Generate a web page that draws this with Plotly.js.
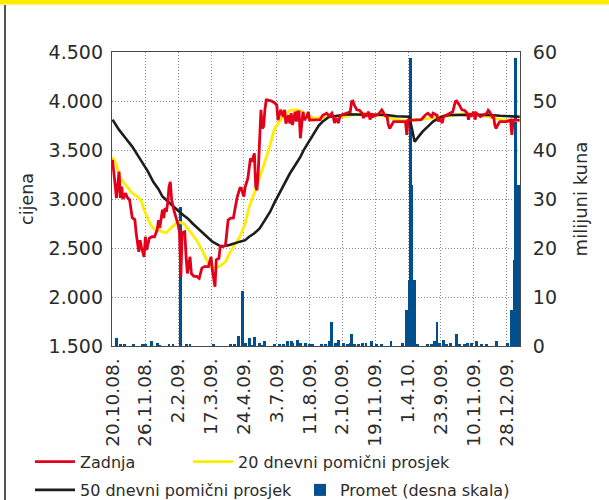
<!DOCTYPE html>
<html>
<head>
<meta charset="utf-8">
<script src="https://cdn.plot.ly/plotly-3.0.1.min.js"></script>
<style>
  html, body { margin: 0; padding: 0; background: #fff; }
  #chart { width: 609px; height: 500px; }
</style>
</head>
<body>
<div id="chart"></div>
<script>
// ---- Data (trading-day index on x) ----
const tickDays = [0, 25, 50, 75, 100, 125, 150, 175, 200, 225, 250, 275, 300];
const tickLabels = ['20.10.08.', '26.11.08.', '2.2.09.', '17.3.09.', '24.4.09.', '3.7.09.', '11.8.09.', '2.10.09.', '19.11.09.', '1.4.10.', '23.9.09.', '10.11.09.', '28.12.09.'];

const priceTicks = [1500, 2000, 2500, 3000, 3500, 4000, 4500];
const priceTickLabels = ['1.500', '2.000', '2.500', '3.000', '3.500', '4.000', '4.500'];
const volumeTicks = [0, 10, 20, 30, 40, 50, 60];
const volumeTickLabels = ['0', '10', '20', '30', '40', '50', '60'];

// Zadnja (last price)
const zadnjaDays = [0,1,3,5,6,7,8,10,11,13,15,17,18,20,21,22,24,25,26,28,30,32,34,35,36,38,39,40,41,42,43,44,45,47,49,50,51,52,53,55,56,57,59,60,61,62,64,66,68,70,73,74,75,76,78,79,81,82,84,86,88,90,92,94,95,97,98,100,101,103,104,105,106,107,108,109,110,111,112,113,114,115,116,117,118,121,123,125,126,128,130,131,132,134,135,136,137,139,140,141,142,143,145,146,148,149,150,153,155,158,160,163,165,167,168,169,170,172,173,174,178,181,182,183,184,186,188,190,191,192,193,195,196,197,198,201,203,205,206,207,209,210,211,213,214,216,219,221,223,224,225,228,230,233,235,238,240,243,244,247,248,249,251,252,254,257,259,261,262,264,266,268,270,271,272,273,275,276,277,280,282,285,286,287,289,290,291,292,294,295,297,300,303,304,305,308,310];
const zadnjaValues = [3400,3265,3010,3280,3010,3125,3000,3060,3020,2990,2810,2790,2650,2460,2580,2510,2410,2615,2480,2600,2615,2615,2685,2785,2705,2890,2805,2910,2870,2960,3125,3175,2990,2870,2770,2735,2655,2205,2655,2665,2410,2240,2410,2240,2225,2210,2210,2190,2295,2310,2310,2380,2410,2275,2105,2380,2395,2515,2515,2530,2785,2805,2805,2955,3025,3110,3110,3025,3125,3210,3295,3415,3380,3415,3465,3125,3090,3295,3705,3910,3720,3740,3910,4010,4010,4000,3985,3960,3805,3910,3840,3910,3770,3855,3770,3875,3755,3890,3790,3890,3890,3620,3890,3805,3840,3890,3805,3805,3805,3810,3855,3875,3845,3875,3840,3775,3825,3775,3840,3855,3875,3890,3995,4000,3960,3910,3905,3875,3825,3875,3840,3890,3810,3875,3840,3855,3875,3910,3890,3855,3840,3755,3720,3775,3790,3790,3790,3790,3790,3655,3805,3805,3805,3805,3810,3855,3875,3840,3875,3855,3790,3825,3775,3840,3855,3875,3890,3995,4000,3960,3910,3905,3875,3810,3875,3840,3890,3810,3875,3840,3855,3875,3905,3890,3840,3855,3755,3720,3775,3790,3790,3790,3805,3655,3805,3805,3805];

// 20 dnevni pomični prosjek
const ma20Days = [0,3,5,8,12,15,19,22,24,27,29,32,35,38,41,43,46,49,51,54,56,60,64,68,70,73,75,79,83,86,89,93,97,101,104,108,112,116,120,123,127,131,135,139,143,146,150,154,158,165,177,184,192,200,207,215,223,230,238,249,261,268,276,283,291,299,310];
const ma20Values = [3430,3350,3245,3175,3110,3060,3025,2975,2890,2805,2735,2690,2685,2665,2655,2685,2725,2760,2760,2750,2720,2650,2580,2480,2420,2345,2310,2295,2325,2360,2445,2530,2615,2750,2920,3060,3210,3380,3550,3705,3790,3855,3905,3910,3900,3875,3840,3825,3830,3840,3840,3860,3870,3860,3845,3815,3800,3805,3820,3840,3860,3870,3860,3850,3820,3805,3800];

// 50 dnevni pomični prosjek
const ma50Days = [0,5,10,15,19,23,27,31,35,38,42,46,50,54,57,61,65,69,73,76,82,85,89,93,97,101,104,108,112,116,120,123,127,131,135,139,143,146,150,153,157,160,165,169,173,178,192,207,216,226,230,233,236,240,244,248,252,257,270,285,295,310];
const ma50Values = [3810,3705,3620,3535,3450,3365,3280,3175,3100,3025,2975,2920,2880,2835,2805,2750,2700,2650,2600,2565,2520,2520,2530,2550,2565,2580,2615,2650,2700,2785,2870,2955,3060,3160,3260,3345,3430,3510,3600,3670,3750,3790,3840,3845,3855,3865,3860,3860,3845,3840,3585,3636,3687,3738,3790,3823,3846,3857,3860,3860,3850,3840];

// Promet (milijuni kuna, desna skala)
const prometDays = [3,6,9,16,23,25,30,34,36,43,46,52,56,59,77,90,93,96,99,101,104,106,108,112,114,116,123,127,130,133,136,137,141,143,147,150,152,159,162,165,167,170,172,176,179,181,182,184,187,190,193,197,201,205,212,221,224,226,227,228,230,232,240,243,245,247,249,252,254,257,262,264,268,270,273,277,281,285,292,301,304,306,307,309];
const prometValues = [1.6,0.4,0.4,0.4,0.4,0.4,0.95,0.7,0.3,0.4,0.4,28.4,0.4,0.4,0.4,0.4,0.4,2.1,11.3,0.7,1.6,0.3,1.9,0.7,0.3,0.95,0.4,0.4,0.4,0.95,0.95,0.7,1.2,0.7,0.7,0.4,0.4,0.4,0.4,0.95,4.8,0.7,1.2,0.7,0.4,0.7,2.4,0.4,0.4,0.7,0.7,0.95,0.4,0.4,0.95,0.7,7.3,13.5,58.8,32.9,13.5,0.4,0.4,0.4,0.95,4.8,0.7,1.2,0.4,0.7,2.4,0.4,0.4,0.7,0.7,0.95,0.4,0.4,0.95,0.7,7.3,17.5,58.7,32.9];

// ---- Styling ----
const RED = '#e3001b', YELLOW = '#ffec00', BLACK = '#1d1d1b', BLUE = '#00508f';
const GRID = '#8a8a8a', FRAME = '#4a4a4a', TEXT = '#2b2b2b';
const FONT = 'DejaVu Sans';

const traces = [
  { type: 'bar', name: 'Promet (desna skala)', x: prometDays, y: prometValues, width: 2.2,
    marker: { color: BLUE, line: { width: 0 } }, xaxis: 'x', yaxis: 'y', legend: 'legend4' },
  { type: 'scatter', mode: 'lines', name: '20 dnevni pomični prosjek', x: ma20Days, y: ma20Values,
    line: { color: YELLOW, width: 2.8 }, xaxis: 'x', yaxis: 'y2', legend: 'legend2' },
  { type: 'scatter', mode: 'lines', name: '50 dnevni pomični prosjek', x: ma50Days, y: ma50Values,
    line: { color: BLACK, width: 2.6 }, xaxis: 'x', yaxis: 'y2', legend: 'legend3' },
  { type: 'scatter', mode: 'lines', name: 'Zadnja', x: zadnjaDays, y: zadnjaValues,
    line: { color: RED, width: 2.8 }, xaxis: 'x', yaxis: 'y2', legend: 'legend' }
];

function legendAt(xPx, yPx, iw) {
  return { xref: 'container', yref: 'container', x: xPx / 609, y: 1 - yPx / 500,
    xanchor: 'left', yanchor: 'middle', orientation: 'h', itemwidth: iw,
    bgcolor: 'rgba(0,0,0,0)', borderwidth: 0, font: { family: FONT, size: 16, color: TEXT } };
}

const layout = {
  width: 609, height: 500,
  margin: { l: 112, r: 89, t: 52, b: 154, pad: 0 },
  paper_bgcolor: '#ffffff', plot_bgcolor: '#ffffff',
  font: { family: FONT, color: TEXT, size: 16 },
  showlegend: true,
  legend: legendAt(30, 461.7, 40),
  legend2: legendAt(188, 461.7, 40),
  legend3: legendAt(30, 490, 40),
  legend4: legendAt(300, 490, 30),
  bargap: 0,
  xaxis: {
    range: [-0.4, 310.2], tickmode: 'array', tickvals: tickDays, ticktext: tickLabels,
    tickangle: -90, tickfont: { family: FONT, size: 18.5, color: TEXT }, ticklabelstandoff: 4,
    showgrid: true, gridcolor: GRID, gridwidth: 1, griddash: '1px,2px',
    showline: true, linecolor: FRAME, linewidth: 1, mirror: true, ticks: '', zeroline: false
  },
  yaxis: {
    side: 'right', range: [0, 60], tickmode: 'array', tickvals: volumeTicks, ticktext: volumeTickLabels,
    tickfont: { family: FONT, size: 19, color: TEXT }, ticklabelstandoff: 8,
    showgrid: true, gridcolor: GRID, gridwidth: 1, griddash: '1px,2px',
    showline: true, linecolor: FRAME, linewidth: 1, mirror: true, ticks: '', zeroline: false,
    title: { text: 'milijuni kuna', font: { family: FONT, size: 18, color: TEXT }, standoff: 18 }
  },
  yaxis2: {
    overlaying: 'y', side: 'left', range: [1500, 4500], tickmode: 'array',
    tickvals: priceTicks, ticktext: priceTickLabels,
    tickfont: { family: FONT, size: 19, color: TEXT }, ticklabelstandoff: 8,
    showgrid: false, showline: false, ticks: '', zeroline: false,
    title: { text: 'cijena', font: { family: FONT, size: 17.5, color: TEXT }, standoff: 10 }
  },
  shapes: [
    // yellow title band at the very top of the page
    { type: 'rect', xref: 'paper', yref: 'paper', x0: -112/408, x1: 497/408,
      y0: 1 + 52/294, y1: 1 - (4.5 - 52)/294, fillcolor: '#ffec00', line: { width: 0 }, layer: 'above' },
    // outer frame line on the left
    { type: 'line', xref: 'paper', yref: 'paper', x0: (5 - 112)/408, x1: (5 - 112)/408,
      y0: 1 - (5 - 52)/294, y1: 1 - (500 - 52)/294, line: { color: '#1d1d1b', width: 1.5 } }
  ]
};

Plotly.newPlot('chart', traces, layout, { displayModeBar: false, staticPlot: true });
</script>
</body>
</html>
